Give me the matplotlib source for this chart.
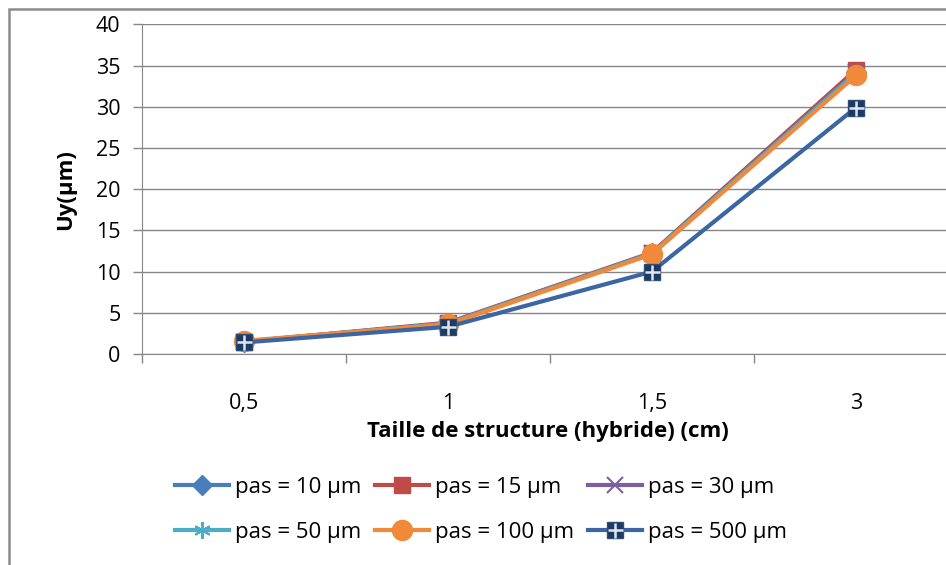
import matplotlib.pyplot as plt
from matplotlib.patches import Rectangle
import numpy as np

# --- data ---
tailles = ["0,5", "1", "1,5", "3"]
pas_10 = [1.5, 3.7, 12.2, 34.2]
pas_15 = [1.5, 3.8, 12.3, 34.5]
pas_30 = [1.5, 3.7, 12.2, 34.2]
pas_50 = [1.5, 3.7, 12.2, 34.1]
pas_100 = [1.6, 3.6, 12.1, 33.8]
pas_500 = [1.4, 3.3, 10.0, 29.9]

plt.rcParams['font.family'] = ['Open Sans', 'DejaVu Sans']

fig = plt.figure(figsize=(9.46, 5.65), dpi=100)
ax = fig.add_axes([142/946, 1 - 354/565, 816/946, (354 - 24.3)/565])

# outer chart border (cropped on right and bottom)
fig.patches.append(Rectangle((9/946, -0.05), 1.1, 1 - 9/565 + 0.05,
                             transform=fig.transFigure, fill=False,
                             edgecolor='#8c8c8c', linewidth=1.8))

x = np.arange(len(tailles))
lw = 3
ms = 12

h10, = ax.plot(x, pas_10, color='#4a7ebb', lw=lw, marker='D', ms=ms*0.85,
               label='pas = 10 µm')
h15, = ax.plot(x, pas_15, color='#be4b48', lw=lw, marker='s', ms=ms,
               label='pas = 15 µm')
h30, = ax.plot(x, pas_30, color='#7d5fa0', lw=lw, marker='x', ms=ms, mew=1.5,
               label='pas = 30 µm')
h50, = ax.plot(x, pas_50, color='#4bacc6', lw=lw, marker=(6, 2, 0), ms=ms, mew=1.5,
               label='pas = 50 µm')
h100, = ax.plot(x, pas_100, color='#f08a3a', lw=lw, marker='o', ms=ms*1.2,
                label='pas = 100 µm')
h500, = ax.plot(x, pas_500, color='#3c66a3', lw=lw, marker='s', ms=ms,
                mfc='#1f3a60', mec='#2c4d75', label='pas = 500 µm')
h500b, = ax.plot(x, pas_500, ls='none', marker='+', ms=ms*0.9, mew=1.8,
                 color='#dce6f2')

ax.set_xlim(-0.5, 3.5)
ax.set_ylim(0, 40)
ax.set_yticks(range(0, 41, 5))
ax.set_xticks(x)
ax.set_xticklabels(tailles)
ax.set_xticks(np.arange(-0.5, 4, 1), minor=True)
ax.tick_params(axis='x', which='major', length=0, pad=28, labelsize=15.5)
ax.tick_params(axis='x', which='minor', length=6.5, color='#868686', width=1)
ax.tick_params(axis='y', length=6.5, color='#868686', width=1, labelsize=15.5, pad=9)
ax.yaxis.grid(True, color='#868686', lw=1)
ax.set_axisbelow(True)
for s in ['top', 'right']:
    ax.spines[s].set_visible(False)
for s in ['left', 'bottom']:
    ax.spines[s].set_color('#868686')

fig.text(548/946, 1 - 432/565, 'Taille de structure (hybride) (cm)',
         ha='center', va='center', fontsize=16, fontweight='bold')
fig.text(66/946, 1 - 190/565, 'Uy(µm)', ha='center', va='center',
         rotation=90, fontsize=16, fontweight='bold')

handles = [h10, h15, h30, h50, h100, (h500, h500b)]
labels = ['pas = 10 µm', 'pas = 15 µm', 'pas = 30 µm',
          'pas = 50 µm', 'pas = 100 µm', 'pas = 500 µm']
# reorder so rows read left to right (ncol=3 fills column-wise)
order = [0, 3, 1, 4, 2, 5]
fig.legend([handles[i] for i in order], [labels[i] for i in order],
           ncol=3, loc='center', bbox_to_anchor=(481/946, 1 - 510/565),
           frameon=False, fontsize=16, handlelength=2.45, handletextpad=0.27,
           columnspacing=0.6, labelspacing=1.1, borderpad=0)

fig.savefig('out.png', dpi=100)
